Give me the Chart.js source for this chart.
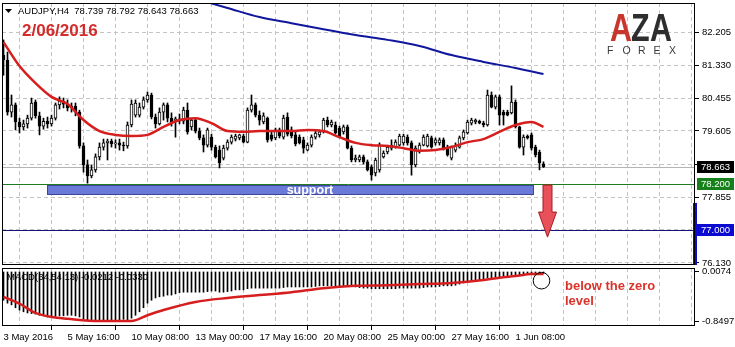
<!DOCTYPE html>
<html>
<head>
<meta charset="utf-8">
<script src="https://cdn.jsdelivr.net/npm/chart.js@4.4.0/dist/chart.umd.min.js"></script>
<style>
  html, body { margin: 0; padding: 0; background: #fff; }
  #wrap { position: relative; width: 735px; height: 347px; overflow: hidden; }
  #main { position: absolute; left: 0; top: 0; }
  #macd { position: absolute; left: 0; top: 266px; }
</style>
</head>
<body>
<div id="wrap">
  <canvas id="main" width="735" height="267" style="width:735px;height:267px"></canvas>
  <canvas id="macd" width="735" height="81" style="width:735px;height:81px"></canvas>
</div>
<script>
var symbol = 'AUDJPY,H4';
var lastOHLC = [78.739, 78.792, 78.643, 78.663];
var dateStamp = '2/06/2016';
var xTickLabels = ['3 May 2016', '5 May 16:00', '10 May 08:00', '13 May 00:00', '17 May 16:00',
  '20 May 08:00', '25 May 00:00', '27 May 16:00', '1 Jun 08:00'];
var priceTicks = [76.130, 77.000, 77.855, 78.730, 79.605, 80.455, 81.330, 82.205];

// H4 candles, 3 May 00:00 -> 2 Jun
var opens = [
  81.60, 81.47, 80.10, 80.29, 79.84, 79.71, 79.79, 79.94, 80.36, 80.00,
  79.73, 79.86, 79.79, 79.94, 80.29, 80.39, 80.31, 80.21, 80.26, 80.10,
  79.21, 78.71, 78.42, 78.58, 78.92, 79.18, 79.29, 79.34, 79.26, 79.29,
  79.23, 79.21, 79.76, 80.02, 80.02, 80.23, 80.42, 80.55, 79.97, 79.79,
  80.10, 80.29, 79.94, 79.84, 79.92, 79.86, 80.15, 79.71, 79.89, 79.60,
  79.42, 79.23, 79.44, 79.18, 79.10, 78.89, 79.15, 79.31, 79.39, 79.42,
  79.47, 79.31, 80.15, 80.29, 80.02, 79.84, 79.94, 79.50, 79.42, 79.63,
  79.44, 79.97, 79.63, 79.50, 79.44, 79.37, 79.10, 79.23, 79.44, 79.50,
  79.58, 79.89, 79.76, 79.76, 79.68, 79.58, 79.71, 79.15, 78.84, 78.84,
  78.92, 78.79, 78.66, 78.50, 78.58, 78.92, 79.05, 79.15, 79.18, 79.23,
  79.29, 79.44, 79.29, 78.71, 79.05, 79.23, 79.21, 79.42, 79.29, 79.29,
  79.37, 79.18, 78.89, 79.10, 79.18, 79.42, 79.55, 79.81, 79.84, 79.86,
  79.81, 79.76, 80.55, 80.23, 80.50, 80.10, 80.10, 80.08, 80.36, 79.71,
  79.18, 79.47, 79.50, 79.18, 79.05, 78.739
];
var highs = [
  82.00, 81.68, 80.55, 80.34, 79.94, 79.89, 80.02, 80.47, 80.42, 80.10,
  79.94, 79.97, 80.02, 80.34, 80.50, 80.47, 80.42, 80.34, 80.34, 80.15,
  79.29, 78.84, 78.71, 79.00, 79.29, 79.39, 79.39, 79.39, 79.37, 79.39,
  79.31, 79.84, 80.42, 80.42, 80.34, 80.50, 80.63, 80.60, 80.05, 80.21,
  80.34, 80.34, 80.08, 79.97, 80.05, 80.23, 80.34, 79.94, 79.92, 79.68,
  79.50, 79.68, 79.52, 79.23, 79.21, 79.23, 79.37, 79.50, 79.52, 79.52,
  79.52, 80.21, 80.55, 80.34, 80.13, 80.08, 79.97, 79.58, 79.68, 79.68,
  80.02, 80.08, 79.71, 79.60, 79.50, 79.44, 79.29, 79.50, 79.60, 79.63,
  79.94, 79.97, 79.89, 79.84, 79.73, 79.76, 79.76, 79.21, 78.97, 78.97,
  78.97, 78.84, 78.71, 78.89, 79.29, 79.08, 79.23, 79.37, 79.37, 79.52,
  79.52, 79.50, 79.34, 79.21, 79.29, 79.50, 79.52, 79.47, 79.42, 79.42,
  79.42, 79.23, 79.21, 79.29, 79.47, 79.63, 79.89, 79.94, 79.92, 79.89,
  79.86, 80.68, 80.63, 80.55, 80.55, 80.15, 80.15, 80.79, 80.42, 79.73,
  79.50, 79.50, 79.55, 79.23, 79.10, 78.792
];
var lows = [
  81.07, 80.02, 79.97, 79.63, 79.55, 79.63, 79.68, 79.89, 79.94, 79.50,
  79.65, 79.68, 79.73, 79.89, 80.18, 80.21, 80.13, 80.10, 80.00, 79.15,
  78.52, 78.23, 78.37, 78.52, 78.84, 79.10, 78.84, 79.18, 79.15, 79.10,
  79.08, 79.15, 79.71, 79.97, 79.97, 80.18, 80.36, 79.92, 79.68, 79.76,
  79.89, 79.84, 79.73, 79.44, 79.79, 79.79, 79.52, 79.63, 79.55, 79.37,
  79.05, 79.18, 79.10, 78.89, 78.63, 78.84, 79.10, 79.26, 79.34, 79.37,
  79.29, 79.29, 80.10, 79.97, 79.76, 79.79, 79.31, 79.34, 79.37, 79.42,
  79.39, 79.47, 79.42, 79.21, 79.26, 79.02, 79.08, 79.18, 79.39, 79.44,
  79.55, 79.71, 79.71, 79.52, 79.42, 79.52, 79.13, 78.79, 78.79, 78.79,
  78.73, 78.55, 78.31, 78.42, 78.52, 78.89, 79.00, 79.10, 79.15, 79.21,
  79.23, 79.23, 78.44, 78.66, 79.02, 79.21, 79.18, 79.15, 79.23, 79.23,
  79.10, 78.94, 78.84, 79.05, 79.15, 79.37, 79.52, 79.76, 79.79, 79.79,
  79.71, 79.73, 80.21, 80.18, 79.76, 79.76, 80.00, 80.05, 79.68, 79.15,
  78.97, 79.39, 79.10, 78.92, 78.58, 78.643
];
var closes = [
  81.47, 80.10, 80.29, 79.84, 79.71, 79.79, 79.94, 80.34, 80.00, 79.73,
  79.86, 79.79, 79.94, 80.29, 80.39, 80.31, 80.21, 80.26, 80.10, 79.21,
  78.71, 78.42, 78.58, 78.92, 79.18, 79.29, 79.34, 79.26, 79.29, 79.23,
  79.21, 79.76, 80.31, 80.34, 80.23, 80.42, 80.55, 79.97, 79.79, 80.10,
  80.29, 79.94, 79.84, 79.92, 79.86, 80.15, 79.58, 79.89, 79.60, 79.42,
  79.23, 79.63, 79.18, 78.92, 78.76, 79.15, 79.31, 79.44, 79.47, 79.50,
  79.31, 80.15, 80.29, 80.02, 79.89, 80.00, 79.37, 79.39, 79.63, 79.47,
  79.94, 79.52, 79.47, 79.26, 79.29, 79.15, 79.23, 79.44, 79.55, 79.58,
  79.89, 79.76, 79.84, 79.55, 79.44, 79.71, 79.15, 78.84, 78.89, 78.92,
  78.79, 78.58, 78.44, 78.84, 79.23, 79.02, 79.18, 79.23, 79.31, 79.47,
  79.47, 79.29, 78.71, 79.15, 79.23, 79.44, 79.47, 79.18, 79.37, 79.37,
  79.15, 78.97, 79.18, 79.23, 79.42, 79.58, 79.84, 79.89, 79.89, 79.81,
  79.76, 80.55, 80.23, 80.50, 80.02, 80.02, 80.02, 80.36, 79.71, 79.18,
  79.44, 79.42, 79.15, 78.97, 78.76, 78.663
];

// moving averages, read at some bars
var redMaBars = [0, 4, 8, 12, 16, 20, 24, 28, 32, 36, 40, 44, 48, 52, 56, 60, 64, 68,
  72, 76, 80, 84, 88, 92, 96, 100, 104, 108, 112, 116, 120, 124, 128, 132, 135];
var redMa = [81.94, 81.31, 80.86, 80.50, 80.31, 79.89, 79.60, 79.50, 79.47, 79.50, 79.71, 79.89,
  79.94, 79.81, 79.60, 79.58, 79.60, 79.60, 79.60, 79.63, 79.60, 79.44, 79.29, 79.23, 79.21,
  79.15, 79.08, 79.10, 79.18, 79.31, 79.39, 79.58, 79.76, 79.84, 79.71];
var blueMaBars = [50, 56, 64, 72, 80, 88, 96, 104, 112, 120, 128, 135];
var blueMa = [83.02, 82.84, 82.60, 82.44, 82.28, 82.13, 82.00, 81.84, 81.60, 81.42, 81.26, 81.10];

// MACD(34,54,13)
var macdHist = [
  -0.49, -0.54, -0.57, -0.62, -0.66, -0.69, -0.71, -0.72, -0.73, -0.75,
  -0.76, -0.78, -0.78, -0.77, -0.76, -0.76, -0.75, -0.75, -0.76, -0.78,
  -0.81, -0.84, -0.85, -0.85, -0.85, -0.85, -0.84, -0.84, -0.83, -0.83,
  -0.82, -0.83, -0.80, -0.75, -0.69, -0.62, -0.54, -0.49, -0.45, -0.43,
  -0.42, -0.40, -0.40, -0.38, -0.36, -0.35, -0.35, -0.35, -0.35, -0.35,
  -0.35, -0.34, -0.33, -0.33, -0.35, -0.35, -0.34, -0.33, -0.31, -0.31,
  -0.31, -0.29, -0.28, -0.28, -0.28, -0.28, -0.28, -0.28, -0.28, -0.28,
  -0.27, -0.26, -0.26, -0.26, -0.26, -0.26, -0.26, -0.26, -0.25, -0.24,
  -0.24, -0.24, -0.24, -0.24, -0.24, -0.24, -0.24, -0.25, -0.26, -0.27,
  -0.28, -0.28, -0.29, -0.29, -0.29, -0.29, -0.29, -0.29, -0.29, -0.28,
  -0.28, -0.28, -0.28, -0.28, -0.28, -0.27, -0.26, -0.26, -0.26, -0.25,
  -0.24, -0.24, -0.24, -0.23, -0.21, -0.19, -0.17, -0.16, -0.14, -0.14,
  -0.12, -0.10, -0.10, -0.09, -0.09, -0.07, -0.07, -0.05, -0.05, -0.05,
  -0.05, -0.035, -0.035, -0.03, -0.025, -0.0212
];
var signalBars = [0, 4, 8, 12, 16, 24, 32, 36, 40, 48, 56, 64, 72, 80, 88, 96, 104, 112, 120, 124, 128, 132, 135];
var signalLine = [-0.43, -0.55, -0.71, -0.78, -0.81, -0.85, -0.85, -0.75, -0.66, -0.52, -0.45, -0.40,
  -0.35, -0.28, -0.24, -0.23, -0.21, -0.19, -0.14, -0.10, -0.07, -0.035, -0.033];
var macdTicks = [-0.8497, 0.0074];
var macdText = 'MACD(34,54,13) -0.0212 -0.0330';

// drawn levels
var bidLevel = 78.663;
var supportLevel = 78.200;
var targetLevel = 77.000;
var supportZone = { from: 10.75, to: 132.5, low: 77.92, labelAt: 76.6, text: 'support' };
var arrowMark = { bar: 136, top: 78.18, neck: 77.47, tip: 76.81 };
var macdCircle = { bar: 134.5, value: -0.151 };
var noteLines = ['below the zero', 'level'];

var FONT = "'Liberation Sans', Arial, sans-serif";
Chart.defaults.font.family = FONT;
Chart.defaults.font.size = 9.5;
Chart.defaults.color = '#000';

var bars = opens.map(function (o, i) { return i; });
var X_MIN = -0.375, X_MAX = 172.875;

function gridTicks(scale) {
  var t = [];
  for (var v = 0; v <= 168; v += 8) t.push({ value: v });
  scale.ticks = t;
}
function rightAxisFit(scale) {
  scale.width = 40;
  scale.paddingTop = 0;
  scale.paddingBottom = 0;
}
function pts(idx, vals) {
  return vals.map(function (v, k) { return { x: idx[k], y: v }; });
}

var framePlugin = {
  id: 'frame',
  afterDraw: function (chart) {
    var a = chart.chartArea, ctx = chart.ctx;
    ctx.save();
    ctx.strokeStyle = '#000';
    ctx.lineWidth = 1;
    ctx.strokeRect(a.left + 0.5, a.top + 0.5, a.right - a.left - 1, a.bottom - a.top - 1);
    ctx.restore();
  }
};

var levelsPlugin = {
  id: 'levels',
  beforeDatasetsDraw: function (chart) {
    var a = chart.chartArea, ctx = chart.ctx, y = chart.scales.y;
    function hline(v, color) {
      var py = Math.round(y.getPixelForValue(v)) + 0.5;
      ctx.beginPath();
      ctx.moveTo(a.left, py);
      ctx.lineTo(a.right, py);
      ctx.strokeStyle = color;
      ctx.stroke();
    }
    ctx.save();
    ctx.lineWidth = 1;
    hline(bidLevel, '#b4b4b4');
    hline(supportLevel, '#1f7a22');
    hline(targetLevel, '#15157a');
    ctx.restore();
  },
  afterDatasetsDraw: function (chart) {
    var ctx = chart.ctx, x = chart.scales.x, y = chart.scales.y, a = chart.chartArea;
    ctx.save();
    // support zone
    var zx0 = Math.round(x.getPixelForValue(supportZone.from));
    var zx1 = Math.round(x.getPixelForValue(supportZone.to));
    var zy0 = Math.round(y.getPixelForValue(supportLevel)) + 1;
    var zy1 = Math.round(y.getPixelForValue(supportZone.low));
    ctx.fillStyle = '#6b79d8';
    ctx.fillRect(zx0, zy0, zx1 - zx0, zy1 - zy0);
    ctx.strokeStyle = '#3d4795';
    ctx.lineWidth = 1;
    ctx.strokeRect(zx0 + 0.5, zy0 + 0.5, zx1 - zx0 - 1, zy1 - zy0 - 1);
    ctx.fillStyle = '#fff';
    ctx.font = 'bold 12.5px ' + FONT;
    ctx.textAlign = 'center';
    ctx.textBaseline = 'middle';
    ctx.fillText(supportZone.text, x.getPixelForValue(supportZone.labelAt), (zy0 + zy1) / 2 + 0.5);

    // red arrow
    var ax = x.getPixelForValue(arrowMark.bar);
    var aTop = y.getPixelForValue(arrowMark.top);
    var aNeck = y.getPixelForValue(arrowMark.neck);
    var aTip = y.getPixelForValue(arrowMark.tip);
    ctx.beginPath();
    ctx.moveTo(ax - 4.5, aTop);
    ctx.lineTo(ax + 4.5, aTop);
    ctx.lineTo(ax + 4.5, aNeck);
    ctx.lineTo(ax + 9, aNeck);
    ctx.lineTo(ax, aTip);
    ctx.lineTo(ax - 9, aNeck);
    ctx.lineTo(ax - 4.5, aNeck);
    ctx.closePath();
    ctx.fillStyle = '#e8505a';
    ctx.fill();
    ctx.strokeStyle = '#a51d24';
    ctx.stroke();

    // blue marker on the right edge
    var by = y.getPixelForValue(77.71);
    ctx.fillStyle = '#0a0ad0';
    ctx.fillRect(a.right - 2, by, 4, a.bottom - by);
    ctx.restore();
  },
  afterDraw: function (chart) {
    var ctx = chart.ctx, y = chart.scales.y, a = chart.chartArea;
    ctx.save();
    function tag(v, bg) {
      var py = Math.round(y.getPixelForValue(v));
      ctx.fillStyle = bg;
      ctx.fillRect(a.right + 2, py - 6, 37, 12);
      ctx.fillStyle = '#fff';
      ctx.font = '9.5px ' + FONT;
      ctx.textAlign = 'left';
      ctx.textBaseline = 'middle';
      ctx.fillText(v.toFixed(3), a.right + 6, py + 0.5);
    }
    tag(bidLevel, '#000');
    tag(supportLevel, '#16801a');
    tag(targetLevel, '#0a0ad0');

    // header
    ctx.fillStyle = '#000';
    ctx.beginPath();
    ctx.moveTo(5, 9); ctx.lineTo(12, 9); ctx.lineTo(8.5, 13); ctx.closePath();
    ctx.fill();
    ctx.font = '9.5px ' + FONT;
    ctx.textAlign = 'left';
    ctx.textBaseline = 'middle';
    ctx.fillText(symbol + '  ' + lastOHLC.map(function (v) { return v.toFixed(3); }).join(' '), 18, 11);
    ctx.fillStyle = '#d42b2b';
    ctx.font = 'bold 17px ' + FONT;
    ctx.textBaseline = 'alphabetic';
    ctx.fillText(dateStamp, 22, 36);

    // logo
    ctx.font = 'bold 39px ' + FONT;
    var letters = [['A', 610, '#c8372d'], ['Z', 631, '#2e2e2e'], ['A', 650, '#2e2e2e']];
    letters.forEach(function (l) {
      ctx.save();
      ctx.translate(l[1], 41);
      ctx.scale(0.78, 1);
      ctx.fillStyle = l[2];
      ctx.fillText(l[0], 0, 0);
      ctx.restore();
    });
    ctx.font = '10.5px ' + FONT;
    ctx.fillStyle = '#3a3a3a';
    ['F', 'O', 'R', 'E', 'X'].forEach(function (c, k) {
      ctx.fillText(c, 607 + k * 15.5, 54);
    });
    ctx.restore();
  }
};

var mainChart = new Chart(document.getElementById('main'), {
  type: 'bar',
  data: {
    datasets: [
      {
        type: 'line', data: pts(redMaBars, redMa), borderColor: '#d61e1e', borderWidth: 2.5,
        pointRadius: 0, cubicInterpolationMode: 'monotone', order: 0
      },
      {
        type: 'line', data: pts(blueMaBars, blueMa), borderColor: '#10179c', borderWidth: 2,
        pointRadius: 0, cubicInterpolationMode: 'monotone', order: 0
      },
      {
        type: 'bar', order: 1, grouped: false, barThickness: 3,
        data: bars.map(function (i) { return { x: i, y: [opens[i], closes[i]] }; }),
        backgroundColor: bars.map(function (i) { return closes[i] >= opens[i] ? '#fff' : '#000'; }),
        borderColor: '#000', borderWidth: 1, borderSkipped: false
      },
      {
        type: 'bar', order: 2, grouped: false, barThickness: 1,
        data: bars.map(function (i) { return { x: i, y: [lows[i], highs[i]] }; }),
        backgroundColor: '#000', borderWidth: 0
      }
    ]
  },
  options: {
    responsive: false,
    animation: false,
    events: [],
    layout: { padding: { left: 2, top: 3, right: 0, bottom: 2 } },
    plugins: { legend: { display: false }, tooltip: { enabled: false } },
    scales: {
      x: {
        type: 'linear', min: X_MIN, max: X_MAX, offset: false,
        afterBuildTicks: gridTicks,
        afterFit: function (s) { s.height = 0; s.paddingLeft = 0; s.paddingRight = 0; },
        ticks: { display: false },
        grid: { color: '#c4c4c4', drawTicks: false },
        border: { display: false, dash: [4, 3] }
      },
      y: {
        position: 'right', min: 76.077, max: 82.97,
        afterBuildTicks: function (s) { s.ticks = priceTicks.map(function (v) { return { value: v }; }); },
        afterFit: rightAxisFit,
        ticks: {
          padding: 3, autoSkip: false,
          callback: function (v) { return (v === 77 || v === 78.73) ? '' : Number(v).toFixed(3); }
        },
        grid: { color: '#c4c4c4', tickLength: 4, tickColor: '#000' },
        border: { display: false, dash: [4, 3] }
      }
    }
  },
  plugins: [levelsPlugin, framePlugin]
});

var macdPlugin = {
  id: 'macdNotes',
  afterDatasetsDraw: function (chart) {
    var ctx = chart.ctx, x = chart.scales.x, y = chart.scales.y, a = chart.chartArea;
    ctx.save();
    ctx.fillStyle = '#000';
    ctx.font = '9.5px ' + FONT;
    ctx.textAlign = 'left';
    ctx.textBaseline = 'middle';
    ctx.fillText(macdText, a.left + 5, a.top + 9);

    var cx = x.getPixelForValue(macdCircle.bar), cy = y.getPixelForValue(macdCircle.value);
    ctx.beginPath();
    ctx.arc(cx, cy, 8.3, 0, Math.PI * 2);
    ctx.strokeStyle = '#000';
    ctx.lineWidth = 1;
    ctx.stroke();

    ctx.fillStyle = '#d9342b';
    ctx.font = 'bold 13px ' + FONT;
    ctx.textBaseline = 'alphabetic';
    ctx.fillText(noteLines[0], 565, a.top + 22);
    ctx.fillText(noteLines[1], 565, a.top + 37);
    ctx.restore();
  }
};

var macdChart = new Chart(document.getElementById('macd'), {
  type: 'bar',
  data: {
    datasets: [
      {
        type: 'line', data: pts(signalBars, signalLine), borderColor: '#d61e1e', borderWidth: 2.5,
        pointRadius: 0, cubicInterpolationMode: 'monotone', order: 0
      },
      {
        type: 'bar', order: 1, barThickness: 1,
        data: bars.map(function (i) { return { x: i, y: macdHist[i] }; }),
        backgroundColor: '#000', borderWidth: 0
      }
    ]
  },
  options: {
    responsive: false,
    animation: false,
    events: [],
    layout: { padding: { left: 2, top: 2, right: 0, bottom: 0 } },
    plugins: { legend: { display: false }, tooltip: { enabled: false } },
    scales: {
      x: {
        type: 'linear', min: X_MIN, max: X_MAX, offset: false,
        afterBuildTicks: gridTicks,
        afterFit: function (s) { s.height = 21; s.paddingLeft = 0; s.paddingRight = 0; },
        ticks: {
          align: 'start', padding: 2, maxRotation: 0, autoSkip: false,
          callback: function (v) { return (v % 16 === 0 && xTickLabels[v / 16]) ? xTickLabels[v / 16] : ''; }
        },
        grid: {
          color: '#c4c4c4', tickLength: 4,
          tickColor: function (c) { return c.tick && c.tick.value % 16 === 0 && c.tick.value <= 128 ? '#000' : 'rgba(0,0,0,0)'; }
        },
        border: { display: false, dash: [4, 3] }
      },
      y: {
        position: 'right', min: -0.936, max: 0.069,
        afterBuildTicks: function (s) { s.ticks = macdTicks.map(function (v) { return { value: v }; }); },
        afterFit: rightAxisFit,
        ticks: { padding: 3, autoSkip: false, callback: function (v) { return Number(v).toFixed(4); } },
        grid: { color: 'rgba(0,0,0,0)', tickLength: 4, tickColor: '#000' },
        border: { display: false }
      }
    }
  },
  plugins: [macdPlugin, framePlugin]
});
</script>
</body>
</html>
